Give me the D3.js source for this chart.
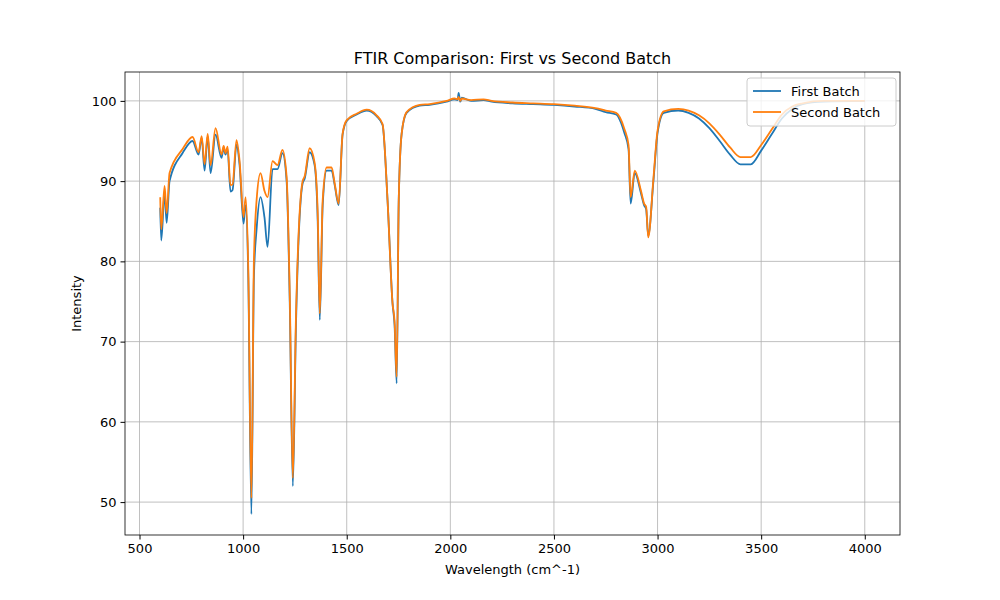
<!DOCTYPE html>
<html><head><meta charset="utf-8">
<script src="https://cdn.jsdelivr.net/npm/d3@7"></script>
<style>body{margin:0;background:#fff;font-family:"DejaVu Sans",sans-serif;}</style>
</head><body>
<svg id="chart" width="1000" height="600"></svg>
<script>
// wavenumber grid (cm^-1) shared by both batches
const wavenumbers = [600,605,621,631,645,708,756,785,800,814,829,843,867,896,906,915,925,939,949,968,983,1002,1012,1025,1040,1052,1065,1084,1103,1118,1142,1166,1190,1210,1225,1240,1255,1287,1297,1321,1345,1360,1370,1384,1403,1427,1442,1461,1480,1500,1548,1596,1644,1673,1697,1721,1731,1741,1751,1765,1789,1852,1900,1982,2020,2035,2040,2048,2055,2100,2160,2200,2300,2400,2500,2600,2700,2750,2800,2840,2860,2870,2890,2920,2935,2945,2955,2980,3000,3030,3100,3150,3200,3250,3300,3350,3400,3450,3500,3550,3600,3650,3700,3800,4000];
const firstBatch = [86.7,82.6,88.5,84.8,90.0,93.5,95.0,93.3,95.4,91.3,95.6,91.0,95.8,92.9,94.2,93.3,94.0,88.7,88.9,94.5,92.0,84.7,87.0,78,48.5,78,84.0,88.0,85.5,81.8,91.5,91.5,93.5,90,75,52.0,72,89.7,90.3,93.6,92.0,85,72.7,87.0,91.3,91.3,89.5,87.0,95.8,97.5,98.3,98.8,98.1,97.0,87.6,74.8,72,64.8,87.6,95.9,98.5,99.4,99.5,99.9,100.2,100.1,101.0,99.9,100.4,100.0,100.1,99.9,99.7,99.6,99.5,99.3,99.0,98.6,98.3,96.0,94.0,87.2,91.0,88.5,87.0,86.5,83.2,90.0,96.0,98.5,98.8,98.5,97.8,96.6,95.0,93.3,92.1,92.1,93.8,95.8,97.8,99.0,99.6,99.9,100.0];
const secondBatch = [88.0,84.0,89.4,86.0,91.0,94.0,95.5,93.6,95.6,92.1,95.9,92.0,96.6,93.3,94.4,93.5,94.3,89.5,89.6,95.1,92.5,85.5,88.0,79,50.5,80,87.6,91.0,88.8,88.0,92.5,92.0,93.9,90.5,76,53.0,73,90.0,90.6,94.1,92.3,86,73.5,87.6,91.7,91.7,89.7,87.2,95.9,97.6,98.4,98.9,98.2,97.1,87.6,74.8,72.5,65.6,87.6,95.9,98.6,99.5,99.6,100.0,100.3,100.2,100.5,100.0,100.3,100.1,100.2,100.0,99.8,99.7,99.6,99.4,99.1,98.8,98.5,96.5,94.5,88.0,91.3,88.8,87.2,86.8,83.0,90.3,96.3,98.7,99.0,98.8,98.2,97.2,95.8,94.2,93.0,93.0,94.5,96.4,98.3,99.3,99.7,100.0,100.0];
const xTicks = [500,1000,1500,2000,2500,3000,3500,4000];
const yTicks = [50,60,70,80,90,100];
const seriesNames = ["First Batch","Second Batch"];
const colors = ["#1f77b4","#ff7f0e"];

const margin = {left:125, right:100, top:72, bottom:65};
const svg = d3.select('#chart');
const width = 1000 - margin.left - margin.right;
const height = 600 - margin.top - margin.bottom;
const g = svg.append('g').attr('transform', `translate(${margin.left},${margin.top})`);

const xScale = d3.scaleLinear().domain([430, 4170]).range([0, width]);
const yScale = d3.scaleLinear().domain([45.9, 103.6]).range([height, 0]);

// grid
g.selectAll('.vgrid').data(xTicks).enter().append('line')
	.attr('x1', d => xScale(d)).attr('x2', d => xScale(d))
	.attr('y1', 0).attr('y2', height)
	.attr('stroke', '#b0b0b0').attr('stroke-width', 0.8);
g.selectAll('.hgrid').data(yTicks).enter().append('line')
	.attr('y1', d => yScale(d)).attr('y2', d => yScale(d))
	.attr('x1', 0).attr('x2', width)
	.attr('stroke', '#b0b0b0').attr('stroke-width', 0.8);

// axes
const gX = g.append('g').attr('transform', `translate(0,${height})`)
	.call(d3.axisBottom(xScale).tickValues(xTicks).tickFormat(d3.format('d')).tickSizeOuter(0).tickSize(4.5).tickPadding(4));
const gY = g.append('g')
	.call(d3.axisLeft(yScale).tickValues(yTicks).tickFormat(d3.format('d')).tickSizeOuter(0).tickSize(4.5).tickPadding(4));
[gX, gY].forEach(a => {
	a.selectAll('text').attr('font-size', 13).attr('font-family', 'DejaVu Sans').attr('fill', '#000');
	a.select('.domain').remove();
});

g.append('rect').attr('width', width).attr('height', height)
	.attr('fill', 'none').attr('stroke', '#000').attr('stroke-width', 0.8);

// lines
const series = [firstBatch, secondBatch];
const pathfn = d3.line().curve(d3.curveMonotoneX)
	.x((d, i) => xScale(wavenumbers[i])).y(d => yScale(d));
series.forEach((s, i) => {
	g.append('path').attr('d', pathfn(s))
		.attr('fill', 'none').attr('stroke', colors[i]).attr('stroke-width', 1.8)
		.attr('stroke-linejoin', 'round');
});

// titles
svg.append('text').attr('x', margin.left + width / 2).attr('y', margin.top - 8)
	.attr('text-anchor', 'middle').attr('font-size', 16).text('FTIR Comparison: First vs Second Batch');
svg.append('text').attr('x', margin.left + width / 2).attr('y', 574)
	.attr('text-anchor', 'middle').attr('font-size', 13).text('Wavelength (cm^-1)');
svg.append('text').attr('transform', `translate(81,${margin.top + height / 2}) rotate(-90)`)
	.attr('text-anchor', 'middle').attr('font-size', 13).text('Intensity');

// legend
const lg = g.append('g').attr('transform', `translate(${width - 153},6)`);
lg.append('rect').attr('width', 149).attr('height', 48).attr('rx', 3)
	.attr('fill', 'rgba(255,255,255,0.8)').attr('stroke', '#ccc');
seriesNames.forEach((n, i) => {
	lg.append('line').attr('x1', 6).attr('x2', 34).attr('y1', 13 + i * 21).attr('y2', 13 + i * 21)
		.attr('stroke', colors[i]).attr('stroke-width', 1.8);
	lg.append('text').attr('x', 44).attr('y', 18 + i * 21).attr('font-size', 13).text(n);
});
</script>
</body></html>
